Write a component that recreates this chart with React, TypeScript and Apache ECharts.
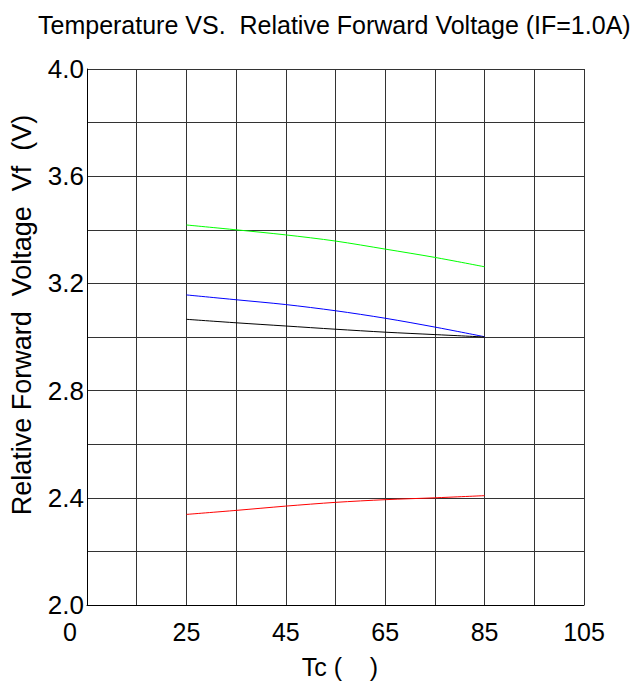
import React, { useEffect, useRef } from "react";
import * as echarts from "echarts";

const temperatures = [25, 35, 45, 55, 65, 75, 85];
const greenSeries = [3.418, 3.4, 3.381, 3.358, 3.328, 3.297, 3.262];
const blueSeries = [3.157, 3.139, 3.121, 3.098, 3.07, 3.037, 3.001];
const blackSeries = [3.066, 3.053, 3.041, 3.029, 3.018, 3.009, 3.0];
const redSeries = [2.338, 2.353, 2.369, 2.383, 2.393, 2.4, 2.408];
const xShownLabels: Record<number, string> = { 5: "0", 25: "25", 45: "45", 65: "65", 85: "85", 105: "105" };
const yShownLabels = [2.0, 2.4, 2.8, 3.2, 3.6, 4.0];

const titleText = "Temperature VS.  Relative Forward Voltage (IF=1.0A)";
const yName = "Relative Forward  Voltage  Vf  (V)";
const xName = "Tc (    )";

const FONT = "'Liberation Sans', Arial, sans-serif";

export default function App() {
  const ref = useRef<HTMLDivElement>(null);
  useEffect(() => {
    if (!ref.current) return;
    const chart = echarts.init(ref.current, null, { renderer: "svg" });
    const mk = (vals: number[], color: string) => ({
      type: "line",
      data: temperatures.map((t, i) => [t, vals[i]]),
      showSymbol: false,
      symbol: "none",
      lineStyle: { color, width: 1 },
      smooth: 0.3,
    });
    chart.setOption({
      animation: false,
      backgroundColor: "#ffffff",
      grid: { left: 87, top: 69, right: 57, bottom: 81 },
      xAxis: {
        type: "value",
        min: 5,
        max: 105,
        interval: 10,
        axisLine: { show: true, lineStyle: { color: "#000", width: 1 } },
        axisTick: { show: false },
        splitLine: { show: true, lineStyle: { color: "#333", width: 1 } },
        axisLabel: {
          fontFamily: FONT,
          fontSize: 25,
          color: "#000",
          margin: 14,
          showMinLabel: true,
          showMaxLabel: true,
          formatter: (v: number) => {
            const r = Math.round(v);
            if (r === 5) return "{z|0}";
            return xShownLabels[r] ?? "";
          },
          rich: { z: { fontFamily: FONT, fontSize: 25, color: "#000", padding: [0, 34, 0, 0] } },
        },
      },
      yAxis: {
        type: "value",
        min: 2.0,
        max: 4.0,
        interval: 0.2,
        axisLine: { show: true, lineStyle: { color: "#000", width: 1 } },
        axisTick: { show: false },
        splitLine: { show: true, lineStyle: { color: "#333", width: 1 } },
        axisLabel: {
          fontFamily: FONT,
          fontSize: 26,
          color: "#000",
          margin: 3,
          showMinLabel: true,
          showMaxLabel: true,
          formatter: (v: number) => {
            const hit = yShownLabels.find((s) => Math.abs(s - v) < 1e-6);
            return hit !== undefined ? hit.toFixed(1) : "";
          },
        },
      },
      graphic: [
        {
          type: "text",
          left: 38,
          top: 12,
          style: { text: titleText, fontFamily: FONT, fontSize: 25, fill: "#000" },
        },
        {
          type: "text",
          x: 22,
          y: 315,
          rotation: Math.PI / 2,
          style: {
            text: yName,
            fontFamily: FONT,
            fontSize: 27,
            fill: "#000",
            align: "center",
            verticalAlign: "middle",
          },
        },
        {
          type: "text",
          x: 340,
          y: 667,
          style: {
            text: xName,
            fontFamily: FONT,
            fontSize: 25,
            fill: "#000",
            align: "center",
            verticalAlign: "middle",
          },
        },
      ],
      series: [
        mk(greenSeries, "#00ff00"),
        mk(blueSeries, "#0000ff"),
        mk(blackSeries, "#000000"),
        mk(redSeries, "#ff0000"),
      ],
    });
    return () => chart.dispose();
  }, []);
  return <div ref={ref} style={{ width: 641, height: 686, position: "absolute", left: 0, top: 0 }} />;
}
